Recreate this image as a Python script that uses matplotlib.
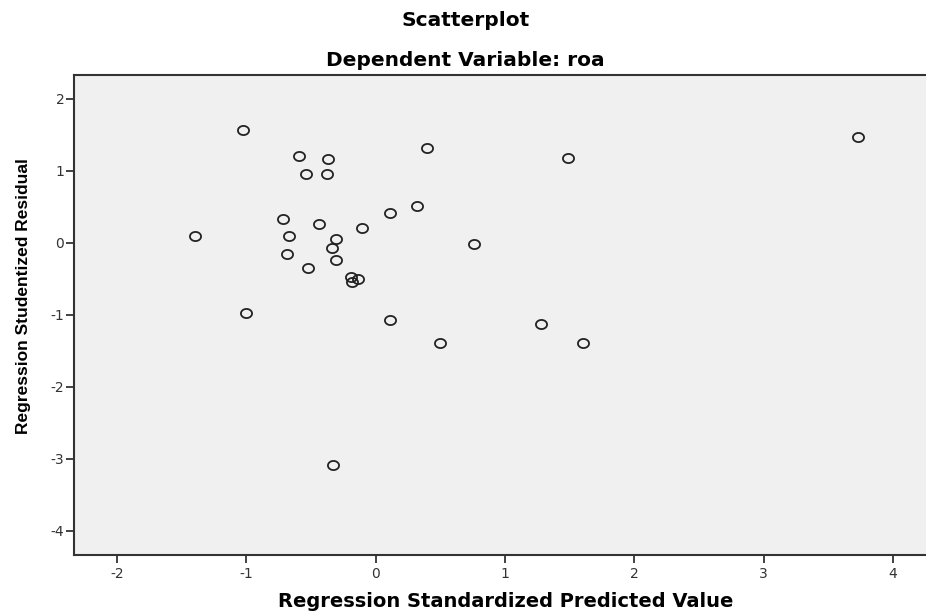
import numpy as np
from matplotlib import pyplot as plt
from matplotlib.path import Path

# values
pred = [-1.03, -0.59, -0.37, -0.54, -0.38, 0.40, 0.32, 0.11, -0.72, -0.44,
        -0.11, -1.40, -0.67, -0.31, 0.76, -0.34, -0.69, -0.31, -0.52, -0.19,
        -0.14, -0.18, -1.00, 0.11, 0.50, 1.49, 3.73, 1.28, 1.60, -0.33]
resid = [1.57, 1.21, 1.17, 0.96, 0.95, 1.31, 0.51, 0.41, 0.33, 0.26,
         0.20, 0.10, 0.09, 0.05, -0.02, -0.07, -0.15, -0.24, -0.35, -0.48,
         -0.50, -0.55, -0.97, -1.07, -1.40, 1.18, 1.47, -1.13, -1.39, -3.09]

xticks = [-2, -1, 0, 1, 2, 3, 4]
yticks = [2, 1, 0, -1, -2, -3, -4]

plt.rcParams['font.family'] = ['DejaVu Sans']
plt.rcParams['axes.unicode_minus'] = False

# slightly flattened circle, like the marker in the picture
t = np.linspace(0, 2 * np.pi, 60)
ellipse = Path(np.column_stack([np.cos(t), 0.82 * np.sin(t)]), closed=True)

fig = plt.figure(figsize=(9.26, 6.14), dpi=100)
ax = fig.add_axes([0.080, 0.0966, 0.920, 0.7817])
ax.set_facecolor('#f0f0f0')

ax.plot(pred, resid, linestyle='none', marker=ellipse, markersize=8,
        markerfacecolor='none', markeredgecolor='#222222', markeredgewidth=1.3)

ax.set_xlim(-2.333, 4.256)
ax.set_ylim(-4.336, 2.335)
ax.set_xticks(xticks)
ax.set_yticks(yticks)

for side in ['left', 'bottom', 'top']:
    ax.spines[side].set_color('#333333')
    ax.spines[side].set_linewidth(1.5)
ax.spines['right'].set_visible(False)

ax.tick_params(direction='out', length=6, width=1.3, color='#333333',
               labelsize=10, labelcolor='#333333')
ax.tick_params(axis='y', pad=1)
ax.tick_params(axis='x', pad=3)

fig.text(0.503, 0.966, 'Scatterplot', ha='center', va='center',
         fontsize=14.5, fontweight='bold')
fig.text(0.503, 0.902, 'Dependent Variable: roa', ha='center', va='center',
         fontsize=14.5, fontweight='bold')
fig.text(0.546, 0.020, 'Regression Standardized Predicted Value', ha='center',
         va='center', fontsize=14, fontweight='bold')
fig.text(0.025, 0.518, 'Regression Studentized Residual', ha='center',
         va='center', rotation=90, fontsize=12.5, fontweight='bold',
         family=['Liberation Sans', 'DejaVu Sans'])

fig.savefig('out.png', dpi=100, facecolor='white')
